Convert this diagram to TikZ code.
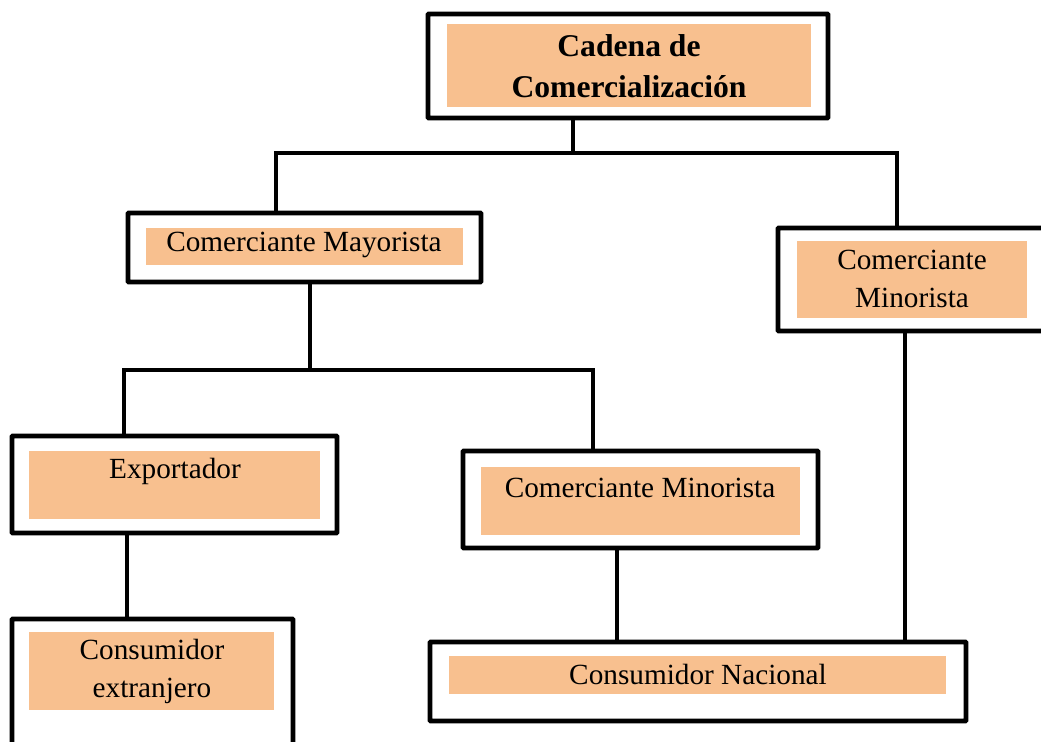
\documentclass[tikz,border=0pt]{standalone}
\usepackage{fontspec}
\setmainfont{Liberation Serif}
\usetikzlibrary{fit}
\definecolor{peach}{RGB}{248,192,143}

\begin{document}
\begin{tikzpicture}[x=0.025cm,y=-0.025cm,
    outerbox/.style={draw,line width=0.115cm,inner sep=0pt,rounded corners=0.5pt},
    fillbox/.style={fill=peach,inner sep=0pt},
    label/.style={align=center,inner sep=0pt,font=\fontsize{20.8}{27}\selectfont},
    link/.style={line width=0.115cm}]
  \useasboundingbox (0,0) rectangle (1041,742);
  \clip (0,0) rectangle (1041,742);
  % boxes
  \node[outerbox,fit={(428,14) (828,118)}] (top) {};
  \node[fillbox,fit={(447,24) (811,107)}] (top-f) {};
  \node[label,font=\fontsize{22.5}{29}\selectfont\bfseries] (top-t) at (629,66) {Cadena de\\Comercialización};

  \node[outerbox,fit={(128,213) (481,282)}] (may) {};
  \node[fillbox,fit={(146,228) (463,265)}] (may-f) {};
  \node[label] (may-t) at (304,245) {Comerciante Mayorista};

  \node[outerbox,fit={(778,228) (1060,331)}] (rmin) {};
  \node[fillbox,fit={(797,241) (1027,318)}] (rmin-f) {};
  \node[label] (rmin-t) at (912,279) {Comerciante\\Minorista};

  \node[outerbox,fit={(12,436) (337,533)}] (exp) {};
  \node[fillbox,fit={(29,451) (320,519)}] (exp-f) {};
  \node[label] (exp-t) at (175,471) {Exportador};

  \node[outerbox,fit={(463,451) (818,548)}] (mmin) {};
  \node[fillbox,fit={(481,467) (800,535)}] (mmin-f) {};
  \node[label] (mmin-t) at (640,488) {Comerciante Minorista};

  \node[outerbox,fit={(12,619) (293,770)}] (ext) {};
  \node[fillbox,fit={(29,632) (274,710)}] (ext-f) {};
  \node[label] (ext-t) at (152,671) {Consumidor\\extranjero};

  \node[outerbox,fit={(430,642) (966,721)}] (nac) {};
  \node[fillbox,fit={(449,656) (946,694)}] (nac-f) {};
  \node[label] (nac-t) at (698,674) {Consumidor Nacional};

  % connectors
  \coordinate (j1) at (573,153);
  \coordinate (j1l) at (276,153);
  \coordinate (j1r) at (897,153);
  \draw[link] (top.south -| j1) -- (j1);
  \draw[link] (j1l |- may.north) -- (j1l) -- (j1r) -- (j1r |- rmin.north);

  \coordinate (j2) at (310,370);
  \coordinate (j2l) at (124,370);
  \coordinate (j2r) at (593,370);
  \draw[link] (may.south -| j2) -- (j2);
  \draw[link] (j2l |- exp.north) -- (j2l) -- (j2r) -- (j2r |- mmin.north);

  \coordinate (x3) at (127,580);
  \coordinate (x4) at (617,600);
  \coordinate (x5) at (905,500);
  \draw[link] (x3 |- exp.south) -- (x3 |- ext.north);
  \draw[link] (x4 |- mmin.south) -- (x4 |- nac.north);
  \draw[link] (x5 |- rmin.south) -- (x5 |- nac.north);
\end{tikzpicture}
\end{document}
